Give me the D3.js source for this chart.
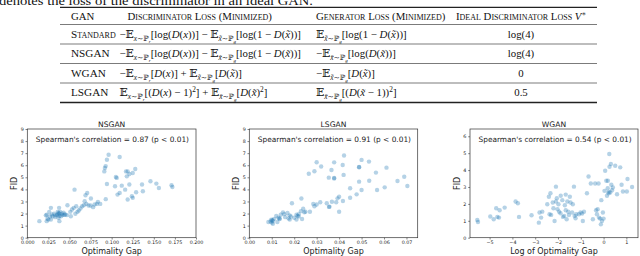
<!DOCTYPE html>
<html lang="en">
<head>
    <meta charset="UTF-8">
    <title>GAN losses and optimality gap</title>
    <script src="https://d3js.org/d3.v7.min.js"></script>
    <style>
        body, html {
            margin: 0;
            padding: 0;
            background-color: #ffffff;
        }
        svg { display: block; }
        .tbl { font-family: 'Liberation Serif', 'DejaVu Serif', serif; fill: #111; }
        .plot text { font-family: 'DejaVu Sans', sans-serif; fill: #222; }
    </style>
</head>
<body>
<svg id="chart" width="640" height="256"></svg>

<script>
    // ---- table data ----
    const ganNames = ["Standard", "NSGAN", "WGAN", "LSGAN"];
    const headers = ["GAN", "Discriminator Loss (Minimized)", "Generator Loss (Minimized)", "Ideal Discriminator Loss"];
    const discLoss = [
        "−𝔼_{x∼ℙ_r}[log(D(x))] − 𝔼_{x̃∼ℙ_g}[log(1 − D(x̃))]",
        "−𝔼_{x∼ℙ_r}[log(D(x))] − 𝔼_{x̃∼ℙ_g}[log(1 − D(x̃))]",
        "−𝔼_{x∼ℙ_r}[D(x)] + 𝔼_{x̃∼ℙ_g}[D(x̃)]",
        "𝔼_{x∼ℙ_r}[(D(x) − 1)^2] + 𝔼_{x̃∼ℙ_g}[D(x̃)^2]"
    ];
    const genLoss = [
        "𝔼_{x̃∼ℙ_g}[log(1 − D(x̃))]",
        "−𝔼_{x̃∼ℙ_g}[log(D(x̃))]",
        "−𝔼_{x̃∼ℙ_g}[D(x̃)]",
        "𝔼_{x̃∼ℙ_g}[(D(x̃ − 1))^2]"
    ];
    const idealLoss = ["log(4)", "log(4)", "0", "0.5"];

    // ---- scatter data ----
    const plotTitles = ["NSGAN", "LSGAN", "WGAN"];
    const spearman = ["Spearman's correlation = 0.87 (p < 0.01)",
                      "Spearman's correlation = 0.91 (p < 0.01)",
                      "Spearman's correlation = 0.54 (p < 0.01)"];
    const xLabels = ["Optimality Gap", "Optimality Gap", "Log of Optimality Gap"];

    const nsganGap = [0.0143,0.023,0.023,0.024,0.026,0.028,0.028,0.029,0.030,0.0317,0.033,0.035,0.036,0.037,0.0377,0.038,0.039,0.038,0.040,0.041,
        0.042,0.043,0.045,0.047,0.0476,0.051,0.0516,0.053,0.055,0.056,0.057,0.058,0.0595,0.061,0.063,0.065,0.067,0.068,0.069,0.071,
        0.070,0.0726,0.075,0.0754,0.078,0.0798,0.0825,0.0837,0.0865,0.0913,0.092,0.0929,0.0944,0.0964,0.0944,0.093,0.104,0.105,0.106,0.107,
        0.1095,0.1095,0.112,0.116,0.117,0.119,0.118,0.119,0.121,0.121,0.124,0.125,0.125,0.128,0.129,0.136,0.137,0.146,0.153,0.156,
        0.171,0.172,0.022,0.025,0.027,0.033,0.036,0.038,0.044,0.037];
    const nsganFid = [1.37,1.9,1.37,1.57,2.14,2.47,1.51,1.92,1.78,1.98,1.70,1.87,2.14,1.65,2.47,1.98,2.14,1.37,1.78,1.98,
        1.87,2.06,1.92,1.87,2.69,2.14,1.78,2.34,2.47,3.98,1.98,2.61,2.14,2.25,2.42,2.61,2.69,3.02,3.52,3.71,
        2.80,2.66,2.66,3.24,2.53,2.75,2.80,2.97,2.80,5.49,5.77,5.93,6.46,6.87,4.45,3.19,4.26,5.03,4.95,3.57,
        3.71,6.68,4.31,3.98,5.49,5.49,5.08,3.16,4.40,5.27,3.43,5.36,3.30,5.69,3.76,4.40,3.85,4.67,4.48,4.12,
        4.34,4.20,1.85,1.5,1.75,1.85,1.95,1.8,1.9,2.05];

    const lsganGap = [0.0085,0.0095,0.0098,0.010,0.0102,0.0105,0.011,0.0105,0.012,0.0125,0.013,0.0135,0.0135,0.014,0.015,0.0155,0.016,0.017,0.0175,0.018,
        0.018,0.0185,0.019,0.020,0.021,0.021,0.0215,0.022,0.022,0.023,0.0235,0.0232,0.024,0.0245,0.025,0.027,0.0285,0.029,0.030,0.0265,
        0.029,0.030,0.032,0.0316,0.0345,0.0368,0.0387,0.0357,0.0355,0.0366,0.0378,0.0378,0.0378,0.0393,0.040,0.040,0.0417,0.0422,0.0416,0.042,
        0.0449,0.0449,0.0478,0.0489,0.0489,0.0489,0.050,0.050,0.0533,0.0534,0.0564,0.0569,0.0603,0.0611,0.066,0.069,0.0704,0.0354];
    const lsganFid = [1.3,1.35,1.5,1.25,1.45,1.4,1.55,1.15,1.8,1.3,1.65,1.55,1.6,1.9,2.1,1.95,1.7,2.05,1.6,1.85,
        1.5,1.75,2.85,1.65,1.5,1.9,1.8,1.95,1.75,2.2,1.55,3.25,2.4,2.1,2.15,2.15,2.8,2.6,2.75,5.3,
        5.5,6.25,5.9,2.93,2.85,2.98,2.93,2.57,2.55,5.6,6.24,4.9,4.95,3.26,3.4,2.15,3.04,6.8,6.02,5.2,
        4.09,3.31,3.59,5.83,5.85,4.64,6.44,3.95,6.3,4.72,5.39,3.95,4.17,5.8,4.7,5.05,4.28,4.97];

    const wganLogGap = [-5.54,-5.51,-4.97,-4.82,-4.71,-4.66,-4.59,-4.56,-4.34,-3.86,-3.76,-3.71,-3.16,-2.84,-2.81,-2.74,-2.69,-2.47,-2.40,-2.37,
        -2.33,-2.30,-2.23,-2.20,-2.15,-2.09,-2.09,-2.05,-2.02,-1.98,-1.95,-1.89,-1.88,-1.81,-1.78,-1.73,-1.70,-1.66,-1.66,-1.62,
        -1.59,-1.55,-1.52,-1.48,-1.45,-1.38,-1.35,-1.30,-1.27,-1.23,-1.20,-1.08,-1.01,-0.94,-0.86,-0.91,-0.73,-0.66,-0.56,-0.47,
        -0.37,-0.33,-0.29,-0.26,-0.22,-0.20,-0.15,-0.12,-0.10,-0.07,-0.03,0.00,0.04,0.07,0.12,0.15,0.18,0.19,0.22,0.22,
        0.25,0.26,0.29,0.32,0.34,0.37,0.41,0.51,0.59,0.73,0.79,0.85,1.02,1.05,1.25];
    const wganFid = [1.05,0.93,1.25,1.09,1.74,1.23,1.19,1.62,1.78,2.14,2.04,1.23,1.33,0.89,1.49,1.19,1.54,1.98,2.42,1.39,
        2.63,1.35,2.08,1.74,0.99,3.02,2.14,2.34,1.68,1.98,1.54,1.45,2.48,2.22,1.23,1.29,1.92,2.55,1.62,1.09,
        2.14,1.54,1.35,2.42,2.08,1.49,1.98,3.02,1.29,1.15,1.39,1.39,1.49,1.43,1.54,0.99,2.63,3.62,3.21,1.09,
        3.21,1.62,1.39,1.68,3.21,1.19,1.13,0.79,2.22,0.99,1.49,1.13,2.77,3.96,3.37,2.48,2.93,3.37,2.71,2.63,
        4.95,4.20,2.67,4.36,3.13,2.81,2.97,4.26,2.57,4.16,3.13,2.73,2.73,3.47,3.0];

    const svg = d3.select("#chart");
    svg.append("rect").attr("width", 640).attr("height", 256).attr("fill", "#fff");

    // ---------- math text helper ----------
    // understands _{..} / _c subscripts, ^c superscripts, "log" upright, latin letters italic
    function readGroup(s, i) {
        if (s[i] === "{") {
            let depth = 1, j = i + 1;
            while (j < s.length && depth > 0) {
                if (s[j] === "{") depth++;
                if (s[j] === "}") depth--;
                j++;
            }
            return [s.slice(i + 1, j - 1), j];
        }
        const cp = s.codePointAt(i);
        let ch = String.fromCodePoint(cp), j = i + ch.length;
        while (j < s.length && /[\u0300-\u036f]/.test(s[j])) { ch += s[j]; j++; }
        return [ch, j];
    }

    function mathText(textSel, s, size, state, shift) {
        let i = 0;
        while (i < s.length) {
            const c = s[i];
            if (c === "_" || c === "^") {
                const [grp, j] = readGroup(s, i + 1);
                const sub = c === "_";
                mathText(textSel, grp, size * 0.68, state, shift + (sub ? size * 0.28 : -size * 0.42));
                i = j;
                continue;
            }
            let piece, italic = false;
            if (s.startsWith("log", i)) { piece = "log"; i += 3; }
            else {
                const [ch, j] = readGroup(s, i);
                piece = ch; i = j;
                italic = /^[A-Za-z]/.test(ch);
            }
            textSel.append("tspan")
                .attr("dy", shift - state.off)
                .attr("font-size", size)
                .attr("font-style", italic ? "italic" : "normal")
                .text(piece);
            state.off = shift;
        }
    }

    function drawMath(x, y, s, size, anchor) {
        const t = svg.append("text").attr("class", "tbl").attr("x", x).attr("y", y)
            .attr("text-anchor", anchor || "start");
        const state = {off: 0};
        mathText(t, s, size, state, 0);
        return t;
    }

    // ---------- caption + table ----------
    svg.append("text").attr("class", "tbl")
        .attr("x", -1).attr("y", 5)
        .attr("font-size", 12.5)
        .attr("textLength", 314).attr("lengthAdjust", "spacingAndGlyphs")
        .text("denotes the loss of the discriminator in an ideal GAN.");

    const tblLeft = 60, tblRight = 597;
    const colX = [71, 119.5, 316, 521];
    const rowY = d3.scaleBand().domain(d3.range(ganNames.length)).range([24.5, 102.5]);

    const rules = [[7.3, 1.3], [24.5, 0.6], [102.5, 1.3]];
    ganNames.slice(1).forEach((d, i) => rules.push([rowY(i + 1), 0.6]));
    rules.forEach(([y, w]) => {
        svg.append("line").attr("x1", tblLeft).attr("x2", tblRight)
            .attr("y1", y).attr("y2", y).attr("stroke", "#222").attr("stroke-width", w);
    });

    const headY = 19.6, capFs = 10.8, nameFs = 11.2, fs = 10.8;
    [0, 1, 2].forEach(k => {
        svg.append("text").attr("class", "tbl")
            .attr("x", k === 1 ? 127.5 : colX[k]).attr("y", headY)
            .attr("font-size", capFs).attr("font-variant", "small-caps")
            .text(headers[k]);
    });
    const idealHead = svg.append("text").attr("class", "tbl")
        .attr("x", 456).attr("y", headY).attr("font-size", capFs).attr("font-variant", "small-caps")
        .text(headers[3] + " ");
    idealHead.append("tspan").attr("font-style", "italic").attr("font-size", fs).text("V");
    idealHead.append("tspan").attr("dy", -4).attr("font-size", 7).text("∗");

    ganNames.forEach((name, i) => {
        const y = rowY(i) + rowY.bandwidth() / 2 + 3.5;
        svg.append("text").attr("class", "tbl")
            .attr("x", colX[0]).attr("y", y)
            .attr("font-size", nameFs).attr("font-variant", "small-caps")
            .text(name);
        drawMath(colX[1], y, discLoss[i], fs);
        drawMath(colX[2], y, genLoss[i], fs);
        drawMath(colX[3], y, idealLoss[i], fs, "middle");
    });

    // ---------- scatter plots ----------
    const plotTop = 129, plotBottom = 237.7;
    const panels = [
        {x0: 27.3, x1: 196, xd: [0, 0.2], xt: d3.range(0, 0.2001, 0.025), fmt: d3.format(".3f"),
         yd: [0, 9], yt: d3.range(0, 10), xs: nsganGap, ys: nsganFid},
        {x0: 249.3, x1: 417.7, xd: [0, 0.075], xt: d3.range(0, 0.0701, 0.01), fmt: d3.format(".2f"),
         yd: [0, 9], yt: d3.range(0, 10), xs: lsganGap, ys: lsganFid},
        {x0: 470, x1: 638, xd: [-5.86, 1.51], xt: d3.range(-5, 2), fmt: d => d3.format("d")(d).replace("-", "−"),
         yd: [0, 6.43], yt: d3.range(0, 7), xs: wganLogGap, ys: wganFid}
    ];

    panels.forEach((p, k) => {
        const g = svg.append("g").attr("class", "plot");
        const x = d3.scaleLinear().domain(p.xd).range([p.x0, p.x1]);
        const y = d3.scaleLinear().domain(p.yd).range([plotBottom, plotTop]);

        g.append("g").attr("transform", `translate(0,${plotBottom})`)
            .call(d3.axisBottom(x).tickValues(p.xt).tickFormat(p.fmt).tickSize(1.8).tickPadding(1.6))
            .call(a => a.select(".domain").remove())
            .call(a => a.selectAll("text").attr("font-size", 4.8).attr("font-family", "DejaVu Sans").attr("fill", "#333"))
            .call(a => a.selectAll("line").attr("stroke", "#333").attr("stroke-width", 0.6));
        g.append("g").attr("transform", `translate(${p.x0},0)`)
            .call(d3.axisLeft(y).tickValues(p.yt).tickFormat(d3.format("d")).tickSize(1.8).tickPadding(1.8))
            .call(a => a.select(".domain").remove())
            .call(a => a.selectAll("text").attr("font-size", 4.8).attr("font-family", "DejaVu Sans").attr("fill", "#333"))
            .call(a => a.selectAll("line").attr("stroke", "#333").attr("stroke-width", 0.6));

        g.selectAll("circle").data(p.xs.map((v, i) => [v, p.ys[i]])).join("circle")
            .attr("cx", d => x(d[0])).attr("cy", d => y(d[1]))
            .attr("r", 2.2)
            .attr("fill", "#1f77b4").attr("fill-opacity", 0.33);

        g.append("rect").attr("x", p.x0).attr("y", plotTop)
            .attr("width", p.x1 - p.x0).attr("height", plotBottom - plotTop)
            .attr("fill", "none").attr("stroke", "#333").attr("stroke-width", 0.7);

        const cx = (p.x0 + p.x1) / 2;
        g.append("text").attr("x", cx).attr("y", 126.8).attr("text-anchor", "middle")
            .attr("font-size", 7.6).text(plotTitles[k]);
        g.append("text").attr("x", p.x0 + 8.5).attr("y", 142)
            .attr("font-size", 7.4).text(spearman[k]);
        g.append("text").attr("x", cx).attr("y", 254).attr("text-anchor", "middle")
            .attr("font-size", 8).text(xLabels[k]);
        g.append("text")
            .attr("transform", `translate(${p.x0 - 10},${(plotTop + plotBottom) / 2}) rotate(-90)`)
            .attr("text-anchor", "middle").attr("font-size", 8).text("FID");
    });
</script>
</body>
</html>
